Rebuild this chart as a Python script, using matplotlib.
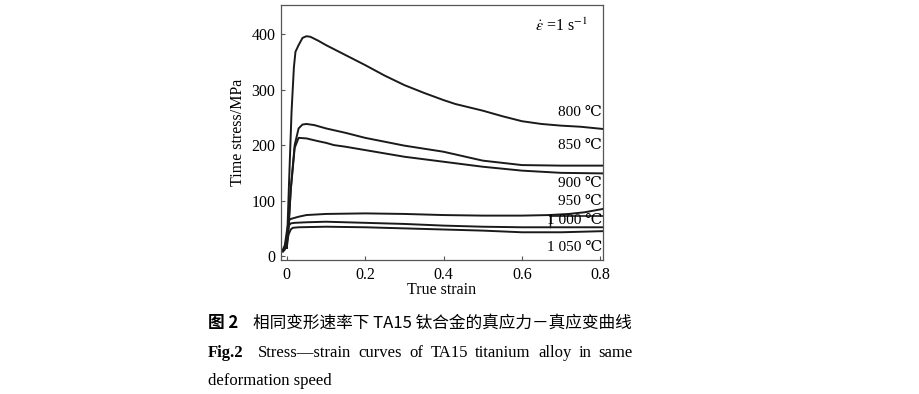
import numpy as np
import matplotlib.pyplot as plt

plt.rcParams['font.family'] = ['Liberation Serif', 'DejaVu Serif']
plt.rcParams['mathtext.fontset'] = 'stix'

# curves: true strain vs true stress (MPa)
x800 = [0.0, 0.005, 0.012, 0.018, 0.022, 0.03, 0.04, 0.05, 0.06, 0.08, 0.1, 0.15, 0.2,
        0.25, 0.3, 0.35, 0.4, 0.43, 0.5, 0.55, 0.6, 0.65, 0.7, 0.75, 0.807]
y800 = [15, 120, 260, 340, 368, 380, 393, 396, 395, 388, 380, 362, 344,
        325, 308, 294, 281, 274, 262, 252, 243, 238, 235, 233, 229]
x850 = [0.0, 0.005, 0.01, 0.02, 0.03, 0.04, 0.05, 0.07, 0.1, 0.15, 0.2, 0.3, 0.4,
        0.45, 0.5, 0.55, 0.6, 0.7, 0.807]
y850 = [15, 60, 120, 200, 230, 237, 238, 236, 230, 222, 213, 199, 188,
        180, 172, 168, 164, 163, 163]
x900 = [0.0, 0.005, 0.01, 0.02, 0.03, 0.05, 0.08, 0.1, 0.12, 0.15, 0.2, 0.3, 0.4,
        0.5, 0.6, 0.7, 0.807]
y900 = [15, 60, 120, 195, 213, 212, 207, 204, 200, 197, 191, 179, 170,
        161, 154, 150, 149]
x950 = [-0.01, -0.005, 0.0, 0.005, 0.01, 0.03, 0.05, 0.1, 0.2, 0.3, 0.4, 0.5, 0.6,
        0.67, 0.72, 0.76, 0.807]
y950 = [12, 20, 45, 64, 67, 71, 74, 76, 77, 76, 74, 73, 73, 74, 76, 79, 85]
x1000 = [-0.01, -0.005, 0.0, 0.005, 0.01, 0.02, 0.05, 0.1, 0.2, 0.3, 0.4, 0.5, 0.6,
         0.7, 0.807]
y1000 = [10, 15, 35, 55, 59, 60, 61, 62, 60, 58, 55, 53, 52, 52, 52]
x1050 = [-0.01, -0.005, 0.0, 0.005, 0.01, 0.015, 0.03, 0.1, 0.2, 0.3, 0.4, 0.5, 0.6,
         0.7, 0.807]
y1050 = [8, 12, 25, 40, 48, 51, 52, 53, 52, 50, 48, 46, 43, 43, 45]

labels = ["800 ℃", "850 ℃", "900 ℃", "950 ℃", "1 000 ℃", "1 050 ℃"]
label_y = [258, 200, 131, 99, 65, 16]

fig = plt.figure(figsize=(9.2, 3.94), dpi=100)
ax = fig.add_axes([0.3054, 0.340, 0.350, 0.647])

curves = [(x800, y800), (x850, y850), (x900, y900),
          (x950, y950), (x1000, y1000), (x1050, y1050)]
for xs, ys in curves:
    ax.plot(xs, ys, color="#1a1a1a", lw=1.4)

# little box drawn round the 1 000 label in the original
ax.plot([0.672, 0.672], [53, 72], color="#1a1a1a", lw=1.0)
ax.plot([0.672, 0.81], [72, 72], color="#1a1a1a", lw=1.2)

for lab, ly in zip(labels, label_y):
    ax.text(0.805, ly, lab, ha="right", va="center", fontsize=11)

ax.text(0.70, 414, r"$\dot{\varepsilon}$ =1 s$^{-1}$", ha="center", va="center", fontsize=11.5)

ax.set_xlim(-0.015, 0.807)
ax.set_ylim(-7, 452)
ax.set_xticks([0, 0.2, 0.4, 0.6, 0.8])
ax.set_xticklabels(["0", "0.2", "0.4", "0.6", "0.8"])
ax.set_yticks([0, 100, 200, 300, 400])
ax.tick_params(direction="in", length=3, width=0.8, color="#555555", labelsize=11.5)
ax.tick_params(axis="x", pad=5)
ax.tick_params(axis="y", pad=4)
for s in ax.spines.values():
    s.set_color("#555555")
    s.set_linewidth(0.9)
ax.set_xlabel("True strain", fontsize=11.5, labelpad=-1)
ax.set_ylabel("Time stress/MPa", fontsize=11.5, labelpad=4)

cjk = ['Noto Sans CJK SC', 'DejaVu Sans']
fig.text(208 / 920, 1 - 323 / 394, "图 2", family=cjk, fontsize=12, weight="bold", va="center")
fig.text(253 / 920, 1 - 323 / 394, "相同变形速率下 TA15 钛合金的真应力－真应变曲线",
         family=cjk, fontsize=12, va="center")
fig.text(208 / 920, 1 - 353 / 394, "Fig.2", fontsize=12, weight="bold", va="center")

# justified second caption line
words = ["Stress—strain", "curves", "of", "TA15", "titanium", "alloy", "in", "same"]
x0, x1 = 258, 633
r = fig.canvas.get_renderer()
arts = [fig.text(0, 1 - 353 / 394, w, fontsize=12, va="center") for w in words]
widths = [a.get_window_extent(r).width for a in arts]
gap = (x1 - x0 - sum(widths)) / (len(words) - 1)
pos = x0
for a, w in zip(arts, widths):
    a.set_x(pos / 920)
    pos += w + gap

fig.text(208 / 920, 1 - 381 / 394, "deformation speed", fontsize=12, va="center")

fig.savefig("out.png", dpi=100)
